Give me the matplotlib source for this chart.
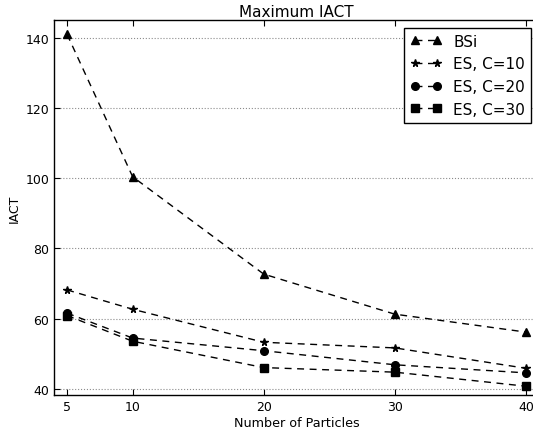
import matplotlib
matplotlib.use("Agg")
import matplotlib.pyplot as plt

# data
particles = [5, 10, 20, 30, 40]
bsi = [140.9, 100.4, 72.7, 61.3, 56.2]
es_c10 = [68.2, 62.7, 53.3, 51.7, 45.9]
es_c20 = [61.6, 54.5, 50.9, 46.9, 44.6]
es_c30 = [60.9, 53.6, 46.1, 44.8, 40.8]

plt.rcParams['font.family'] = 'DejaVu Sans'
plt.rcParams['xtick.direction'] = 'in'
plt.rcParams['ytick.direction'] = 'in'

fig = plt.figure(figsize=(5.33, 4.31), dpi=100)
# axes run slightly past the right edge, like the reference crop
ax = fig.add_axes([54/533, 1 - 396/431, (539 - 54)/533, (396 - 21)/431])

dash = (5, 4)
ax.plot(particles, bsi, 'k^', ls='--', dashes=dash, lw=1, ms=5.5, label='BSi')
ax.plot(particles, es_c10, 'k*', ls='--', dashes=dash, lw=1, ms=5.5, label='ES, C=10')
ax.plot(particles, es_c20, 'ko', ls='--', dashes=dash, lw=1, ms=5.5, label='ES, C=20')
ax.plot(particles, es_c30, 'ks', ls='--', dashes=dash, lw=1, ms=5.5, label='ES, C=30')

ax.set_xlim(4, 41)
ax.set_ylim(38.3, 145)
ax.set_xticks(particles)
ax.set_yticks([40, 60, 80, 100, 120, 140])
ax.tick_params(labelsize=9, length=4, width=0.8, top=True, right=True, colors='k')
ax.yaxis.grid(True, linestyle=':', color='0.55', lw=0.8)

for s in ax.spines.values():
    s.set_linewidth(1.0)

ax.set_title('Maximum IACT', fontsize=11, pad=3)
ax.set_xlabel('Number of Particles', fontsize=9.2, labelpad=2)
ax.set_ylabel('IACT', fontsize=9, labelpad=3)

leg = ax.legend(loc='upper right', numpoints=2, handlelength=2.0, fontsize=11,
                fancybox=False, framealpha=1, edgecolor='k', borderaxespad=0.5)
leg.get_frame().set_linewidth(1.0)

fig.savefig('out.png', dpi=100)
